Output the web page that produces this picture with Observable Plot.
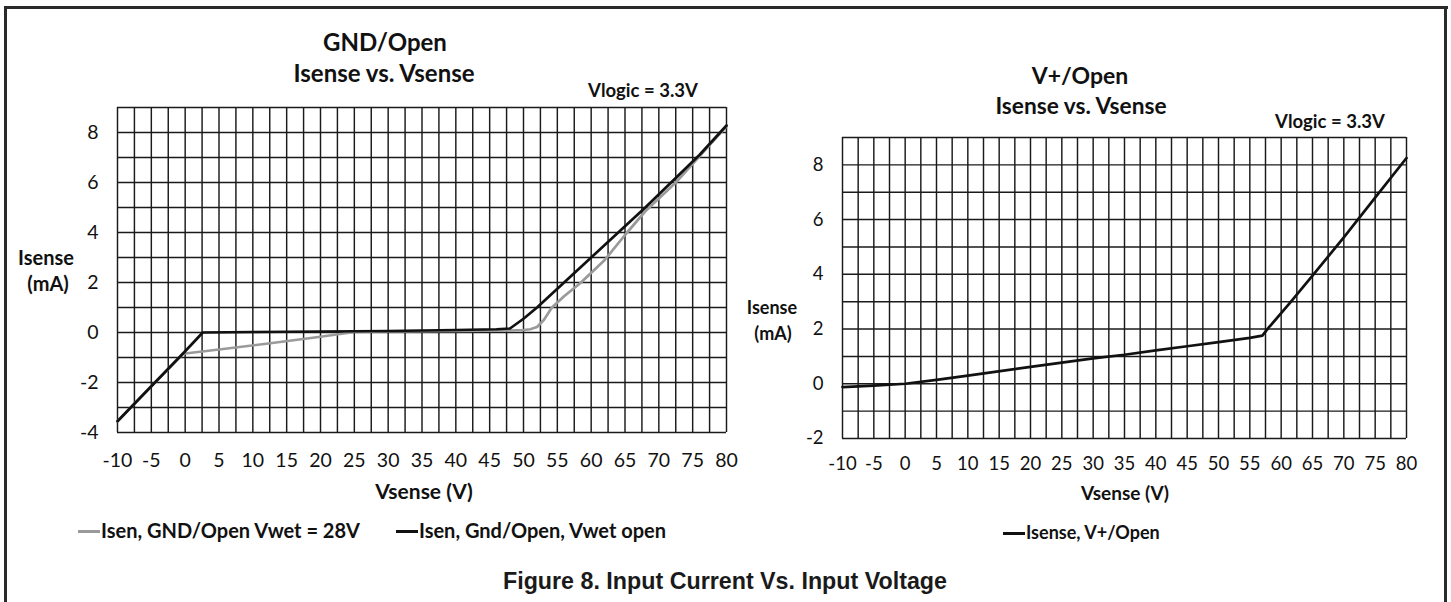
<!DOCTYPE html>
<html><head><meta charset="utf-8">
<script src="https://cdn.jsdelivr.net/npm/d3@7"></script>
<script src="https://cdn.jsdelivr.net/npm/@observablehq/plot@0.6"></script>
<style>
html,body{margin:0;padding:0;background:#fff;}
#page{position:relative;width:1451px;height:602px;overflow:hidden;background:#fff;font-family:Lato,"Open Sans",sans-serif;color:#111;}
.t{position:absolute;white-space:nowrap;transform:translate(-50%,-50%);line-height:1;font-weight:700;}
.frame{position:absolute;background:#2a2a2a;}
.plot{position:absolute;top:0;}
.leg{position:absolute;white-space:nowrap;transform:translateY(-50%);font-weight:700;line-height:1;}
.sw{display:inline-block;width:22px;height:3px;vertical-align:middle;margin-right:1px;position:relative;top:-1px;}
</style></head><body><div id="page"></div>
<script>
// ---- tick labels ----
const xTicks = [-10, -5, 0, 5, 10, 15, 20, 25, 30, 35, 40, 45, 50, 55, 60, 65, 70, 75, 80];
const leftYTicks = [-4, -2, 0, 2, 4, 6, 8];
const rightYTicks = [-2, 0, 2, 4, 6, 8];

// ---- left chart: GND/Open ----
const gnd28V = [-10, -5, -0.3, 5, 12, 20, 25, 30, 40, 48, 50, 51, 52, 53, 54.2, 56, 58.5, 62, 65, 68, 72.5, 76, 80];
const gnd28I = [-3.55, -2.15, -0.85, -0.68, -0.45, -0.17, 0.02, 0.04, 0.06, 0.08, 0.1, 0.13, 0.22, 0.5, 1.0, 1.45, 2.0, 2.9, 3.9, 4.85, 6.0, 7.05, 8.25];
const gndOpenV = [-10, -5, 0, 2.6, 10, 20, 30, 40, 46, 48, 50, 52, 56, 60, 64, 68, 72, 76, 80];
const gndOpenI = [-3.55, -2.15, -0.75, 0, 0.02, 0.04, 0.06, 0.1, 0.13, 0.16, 0.55, 1.0, 2.0, 3.0, 4.0, 5.0, 6.05, 7.1, 8.28];

// ---- right chart: V+/Open ----
const vplusV = [-10, -5, 0, 5, 10, 20, 30, 35, 40, 45, 50, 55, 57, 58, 61.4, 65, 70, 75, 80];
const vplusI = [-0.12, -0.07, 0, 0.14, 0.3, 0.62, 0.93, 1.06, 1.22, 1.37, 1.52, 1.68, 1.76, 2.05, 2.96, 3.95, 5.35, 6.8, 8.25];

const zip = (V, I) => V.map((v, k) => ({v, i: I[k]}));

const page = document.getElementById("page");
function addText(txt, x, y, size, cls = "t", extra = {}) {
  const d = document.createElement("div");
  d.className = cls;
  d.textContent = txt;
  d.style.left = x + "px";
  d.style.top = y + "px";
  d.style.fontSize = size + "px";
  Object.assign(d.style, extra);
  page.appendChild(d);
  return d;
}
function addLegend(x, y, size, items) {
  const d = document.createElement("div");
  d.className = "leg";
  d.style.left = x + "px";
  d.style.top = y + "px";
  d.style.fontSize = size + "px";
  items.forEach((it, k) => {
    const s = document.createElement("span");
    s.className = "sw";
    s.style.background = it.color;
    if (k > 0) s.style.marginLeft = it.gap + "px";
    d.appendChild(s);
    d.appendChild(document.createTextNode(it.label));
  });
  page.appendChild(d);
}

function chart(o) {
  const gridStyle = {stroke: "#1a1a1a", strokeOpacity: 1, strokeWidth: 1.45};
  const p = Plot.plot({
    width: o.width, height: o.height,
    marginLeft: o.mL, marginRight: o.mR, marginTop: o.mT, marginBottom: o.mB,
    x: {domain: [-10, 80]},
    y: {domain: o.yDomain},
    style: {fontFamily: "Lato, 'Open Sans', sans-serif", fontSize: o.fontSize + "px", color: "#111", background: "transparent", overflow: "visible"},
    marks: [
      Plot.gridX({ticks: d3.range(-10, 80.001, 2.5), ...gridStyle}),
      Plot.gridY({ticks: d3.range(o.yDomain[0], o.yDomain[1] + 0.001, 1), ...gridStyle}),
      ...o.series.map(s => Plot.line(s.data, {x: "v", y: "i", stroke: s.color, strokeWidth: 2.7})),
      Plot.axisX({ticks: xTicks, tickSize: 0, tickPadding: o.padX, tickFormat: d => String(d), label: null}),
      Plot.axisY({ticks: o.yTicks, tickSize: 0, tickPadding: o.padY, tickFormat: d => String(d), label: null})
    ]
  });
  p.classList.add("plot");
  p.style.left = o.left + "px";
  page.appendChild(p);
}

chart({
  left: 0, width: 740, height: 480, mL: 117, mR: 14, mT: 107, mB: 48,
  yDomain: [-4, 9], yTicks: leftYTicks, fontSize: 19.5, padX: 21, padY: 19,
  series: [
    {data: zip(gnd28V, gnd28I), color: "#9a9a9a"},
    {data: zip(gndOpenV, gndOpenI), color: "#111"}
  ]
});
chart({
  left: 740, width: 700, height: 480, mL: 102, mR: 34, mT: 137, mB: 42,
  yDomain: [-2, 9], yTicks: rightYTicks, fontSize: 18.5, padX: 18, padY: 19,
  series: [{data: zip(vplusV, vplusI), color: "#111"}]
});

// frame
[[4, 6, 1444, 3], [4, 6, 3, 600], [1444, 6, 3, 600]].forEach(([l, t, w, h]) => {
  const f = document.createElement("div");
  f.className = "frame";
  Object.assign(f.style, {left: l + "px", top: t + "px", width: w + "px", height: h + "px"});
  page.appendChild(f);
});

// left texts
addText("GND/Open", 385, 42, 24);
addText("Isense vs. Vsense", 384, 73, 24);
addText("Vlogic = 3.3V", 643, 90, 18.5);
addText("Isense", 46, 257, 20);
addText("(mA)", 48, 283, 20);
addText("Vsense (V)", 424, 490, 21);
addLegend(78, 530, 20, [
  {color: "#9a9a9a", label: "Isen, GND/Open Vwet = 28V"},
  {color: "#111", label: "Isen, Gnd/Open, Vwet open", gap: 36}
]);

// right texts
addText("V+/Open", 1080, 75, 23);
addText("Isense vs. Vsense", 1081, 106, 22.7);
addText("Vlogic = 3.3V", 1330, 121, 18.5);
addText("Isense", 772, 307, 18);
addText("(mA)", 773, 333, 18);
addText("Vsense (V)", 1125, 492, 19);
addLegend(1003, 532, 18, [{color: "#111", label: "Isense, V+/Open"}]);

// caption
const ns = "http://www.w3.org/2000/svg";
const cap = document.createElementNS(ns, "svg");
cap.setAttribute("width", 1451); cap.setAttribute("height", 42);
Object.assign(cap.style, {position: "absolute", left: "0px", top: "560px"});
const ct = document.createElementNS(ns, "text");
ct.setAttribute("x", 725); ct.setAttribute("y", 29);
ct.setAttribute("text-anchor", "middle");
ct.setAttribute("textLength", 444);
ct.setAttribute("lengthAdjust", "spacingAndGlyphs");
ct.setAttribute("font-family", "'Liberation Sans Narrow', 'Liberation Sans', Arial, sans-serif");
ct.setAttribute("font-weight", "700");
ct.setAttribute("font-size", "24");
ct.setAttribute("fill", "#1a1a1a");
ct.textContent = "Figure 8. Input Current Vs. Input Voltage";
cap.appendChild(ct);
page.appendChild(cap);
</script></body></html>
